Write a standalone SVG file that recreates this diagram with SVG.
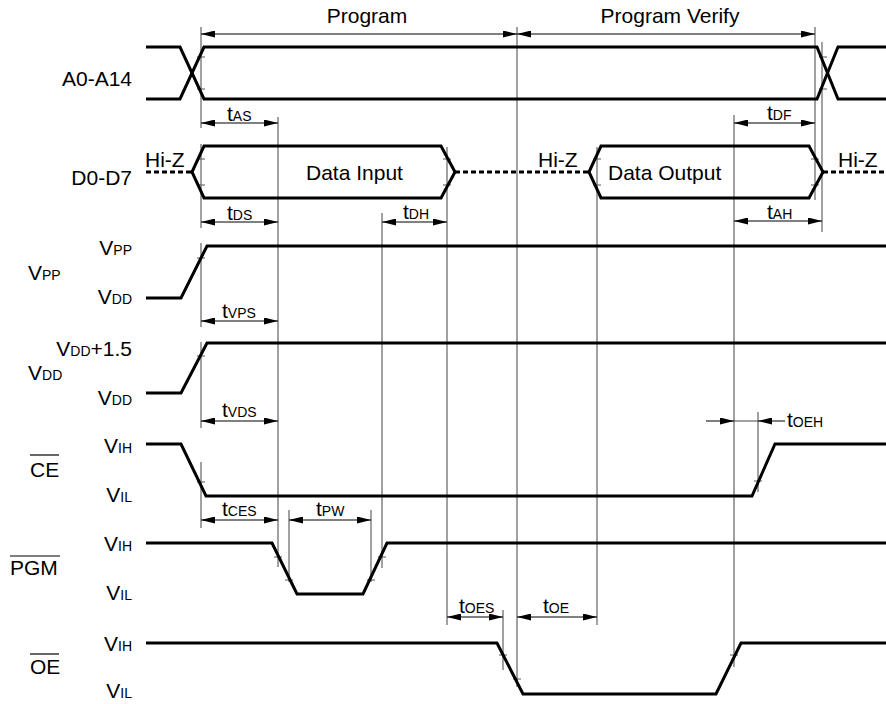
<svg xmlns="http://www.w3.org/2000/svg" width="886" height="704" viewBox="0 0 886 704">
<style>
.sig{fill:none;stroke:#000;stroke-width:3;stroke-linejoin:miter;stroke-linecap:butt}
.dot{fill:none;stroke:#000;stroke-width:3;stroke-dasharray:5,3}
.ref{stroke:#444;stroke-width:1;fill:none}
.tick{stroke:#555;stroke-width:1}
.dim{stroke:#000;stroke-width:1;fill:none;marker-start:url(#ah);marker-end:url(#ah)}
.one{stroke:#000;stroke-width:1;fill:none;marker-end:url(#ah)}
.ov{stroke:#000;stroke-width:1.2}
text{font-family:"Liberation Sans",Arial,sans-serif;font-size:21px;fill:#000}
.s{font-size:14px}
.e{text-anchor:end}
.m{text-anchor:middle}
</style>
<defs>
<marker id="ah" markerUnits="userSpaceOnUse" markerWidth="14" markerHeight="7" refX="14" refY="3.5" orient="auto-start-reverse">
<path d="M0,0 L14,3.5 L0,7 Z" fill="#000"/>
</marker>
</defs>
<rect width="886" height="704" fill="#fff"/>

<g id="connectors">
<path class="ref" d="M201,27V128M201,144V228M201,243V327M201,342V428M201,462V528"/>
<path class="ref" d="M278,117V567M289,510V582M371,510V582M382,213V568M447,147V625M503,610V670M517,27V687M597,147V625M734,115V667M758,412V492M815,27V200M822,42V232"/>
<line class="dim" x1="201" y1="34" x2="517" y2="34"/>
<line class="dim" x1="517" y1="34" x2="815" y2="34"/>
<line class="dim" x1="201" y1="123" x2="278" y2="123"/>
<line class="dim" x1="734" y1="123" x2="815" y2="123"/>
<line class="dim" x1="201" y1="222" x2="278" y2="222"/>
<line class="dim" x1="382" y1="222" x2="447" y2="222"/>
<line class="dim" x1="734" y1="221" x2="822" y2="221"/>
<line class="dim" x1="201" y1="321" x2="278" y2="321"/>
<line class="dim" x1="201" y1="421" x2="278" y2="421"/>
<line class="one" x1="706" y1="421" x2="734" y2="421"/>
<line class="one" x1="785" y1="421" x2="758" y2="421"/>
<line class="ref" x1="734" y1="421" x2="758" y2="421"/>
<line class="dim" x1="201" y1="520" x2="278" y2="520"/>
<line class="dim" x1="289" y1="520" x2="371" y2="520"/>
<line class="dim" x1="447" y1="617" x2="503" y2="617"/>
<line class="dim" x1="517" y1="617" x2="597" y2="617"/>
<path class="tick" d="M197,57h8M197,89h8M819,57h8M819,89h8M197,159h8M197,185h8M443,159h8M443,185h8M593,159h8M593,185h8M811,159h8M811,185h8M197,258h8M197,356h8M197,482h8M754,481h8M274,557h8M285,580h8M367,580h8M378,557h8M499,655h8M513,679h8M730,655h8"/>
</g>

<g id="A0-A14">
<text class="e" x="132" y="86">A0-A14</text>
<path class="sig" d="M146,47H180L204,99H817L838,47H886"/>
<path class="sig" d="M146,99H180L204,47H817L838,99H886"/>
</g>

<g id="phases">
<text class="m" x="367" y="23">Program</text>
<text class="m" x="670" y="23">Program Verify</text>
</g>

<g id="D0-D7">
<text class="e" x="132" y="185">D0-D7</text>
<text x="145" y="167">Hi-Z</text>
<text x="538" y="167">Hi-Z</text>
<text x="838" y="167">Hi-Z</text>
<path class="dot" d="M146,172H192M455,172H589M823,172H886"/>
<path class="sig" d="M192,172L204,146H441L455,172L441,198H204Z"/>
<path class="sig" d="M589,172L601,146H809L823,172L809,198H601Z"/>
<text x="306" y="180">Data Input</text>
<text x="608" y="180">Data Output</text>
</g>

<g id="VPP">
<text x="28" y="280">V<tspan class="s">PP</tspan></text>
<text class="e" x="132" y="255">V<tspan class="s">PP</tspan></text>
<text class="e" x="132" y="304">V<tspan class="s">DD</tspan></text>
<path class="sig" d="M146,298H181L207,246H886"/>
</g>

<g id="VDD">
<text x="28" y="380">V<tspan class="s">DD</tspan></text>
<text class="e" x="132" y="356">V<tspan class="s">DD</tspan>+1.5</text>
<text class="e" x="132" y="405">V<tspan class="s">DD</tspan></text>
<path class="sig" d="M146,393H181L207,343H886"/>
</g>

<g id="CE">
<text x="30" y="477">CE</text>
<line class="ov" x1="30" y1="455" x2="59" y2="455"/>
<text class="e" x="132" y="453">V<tspan class="s">IH</tspan></text>
<text class="e" x="132" y="502">V<tspan class="s">IL</tspan></text>
<path class="sig" d="M146,444H181L206,496H752L775,444H886"/>
</g>

<g id="PGM">
<text x="10" y="575">PGM</text>
<line class="ov" x1="10" y1="556" x2="60" y2="556"/>
<text class="e" x="132" y="551">V<tspan class="s">IH</tspan></text>
<text class="e" x="132" y="600">V<tspan class="s">IL</tspan></text>
<path class="sig" d="M146,543H272L297,594H363L387,543H886"/>
</g>

<g id="OE">
<text x="30" y="674">OE</text>
<line class="ov" x1="30" y1="654" x2="59" y2="654"/>
<text class="e" x="132" y="651">V<tspan class="s">IH</tspan></text>
<text class="e" x="132" y="698">V<tspan class="s">IL</tspan></text>
<path class="sig" d="M146,643H497L523,694H716L741,643H886"/>
</g>

<g id="timing-labels">
<text x="227" y="121">t<tspan class="s">AS</tspan></text>
<text x="767" y="120">t<tspan class="s">DF</tspan></text>
<text x="227" y="220">t<tspan class="s">DS</tspan></text>
<text x="403" y="219">t<tspan class="s">DH</tspan></text>
<text x="767" y="219">t<tspan class="s">AH</tspan></text>
<text x="222" y="318">t<tspan class="s">VPS</tspan></text>
<text x="222" y="417">t<tspan class="s">VDS</tspan></text>
<text x="787" y="427">t<tspan class="s">OEH</tspan></text>
<text x="222" y="516">t<tspan class="s">CES</tspan></text>
<text x="316" y="516">t<tspan class="s">PW</tspan></text>
<text x="459" y="613">t<tspan class="s">OES</tspan></text>
<text x="543" y="613">t<tspan class="s">OE</tspan></text>
</g>
</svg>
